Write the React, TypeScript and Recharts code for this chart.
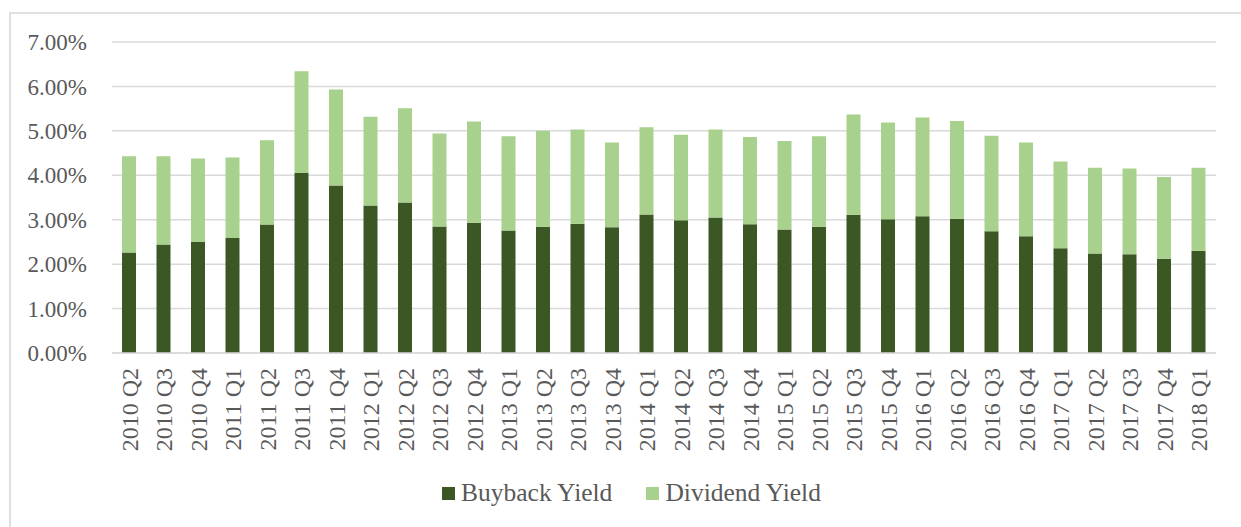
import { BarChart, Bar, XAxis, YAxis, CartesianGrid } from "recharts";

const quarters = [
  "2010 Q2", "2010 Q3", "2010 Q4", "2011 Q1", "2011 Q2", "2011 Q3", "2011 Q4", "2012 Q1",
  "2012 Q2", "2012 Q3", "2012 Q4", "2013 Q1", "2013 Q2", "2013 Q3", "2013 Q4", "2014 Q1",
  "2014 Q2", "2014 Q3", "2014 Q4", "2015 Q1", "2015 Q2", "2015 Q3", "2015 Q4", "2016 Q1",
  "2016 Q2", "2016 Q3", "2016 Q4", "2017 Q1", "2017 Q2", "2017 Q3", "2017 Q4", "2018 Q1",
];

const buybackYield = [
  2.26, 2.44, 2.5, 2.59, 2.89, 4.05, 3.77, 3.32, 3.39, 2.85, 2.93, 2.76, 2.84, 2.91, 2.83, 3.12,
  2.99, 3.05, 2.9, 2.78, 2.84, 3.11, 3.01, 3.08, 3.02, 2.74, 2.63, 2.36, 2.24, 2.22, 2.12, 2.3,
];

const dividendYield = [
  2.17, 1.99, 1.88, 1.81, 1.9, 2.29, 2.16, 2.0, 2.12, 2.09, 2.28, 2.12, 2.16, 2.12, 1.91, 1.96,
  1.92, 1.98, 1.96, 1.99, 2.04, 2.26, 2.18, 2.22, 2.2, 2.15, 2.11, 1.95, 1.93, 1.93, 1.84, 1.87,
];

const yTicks = [0, 1, 2, 3, 4, 5, 6, 7];

const series = [
  { key: "buyback", name: "Buyback Yield", color: "#3b5724" },
  { key: "dividend", name: "Dividend Yield", color: "#a9d18e" },
];

const data = quarters.map((q, i) => ({
  quarter: q,
  buyback: buybackYield[i],
  dividend: dividendYield[i],
}));

const font = "'Liberation Serif', 'DejaVu Serif', serif";
const textColor = "#595959";

function QuarterTick(props: any) {
  const { x, y, payload } = props;
  return (
    <text
      x={x}
      y={y}
      transform={`rotate(-90, ${x}, ${y})`}
      textAnchor="end"
      dy="0.35em"
      fill={textColor}
      fontSize={24}
      fontFamily={font}
    >
      {payload.value}
    </text>
  );
}

export default function App() {
  return (
    <div
      style={{
        position: "absolute",
        left: 0,
        top: 0,
        width: 1241,
        height: 527,
        overflow: "hidden",
        background: "#fff",
      }}
    >
      <div
        style={{
          position: "absolute",
          left: 9,
          top: 12,
          width: 1400,
          height: 700,
          border: "2px solid #e0e0e0",
        }}
      />
      <div style={{ position: "absolute", left: 0, top: 0 }}>
        <BarChart
          width={1241}
          height={527}
          data={data}
          margin={{ top: 42, right: 25, bottom: 54, left: 0 }}
          barSize={14}
        >
          <CartesianGrid vertical={false} stroke="#d9d9d9" strokeWidth={1.5} />
          <XAxis
            dataKey="quarter"
            interval={0}
            height={120}
            tickLine={false}
            tickMargin={9}
            axisLine={{ stroke: "#d9d9d9", strokeWidth: 1.5 }}
            tick={<QuarterTick />}
          />
          <YAxis
            width={112}
            domain={[0, 7]}
            ticks={yTicks}
            tickLine={false}
            axisLine={false}
            tickMargin={19}
            tickFormatter={(v: number) => `${v.toFixed(2)}%`}
            tick={{ fill: textColor, fontSize: 23, fontFamily: font }}
          />
          {series.map((s) => (
            <Bar
              key={s.key}
              dataKey={s.key}
              name={s.name}
              stackId="yield"
              fill={s.color}
              isAnimationActive={false}
            />
          ))}
        </BarChart>
      </div>
      <div
        style={{
          position: "absolute",
          left: 0,
          top: 477,
          width: 1263,
          display: "flex",
          justifyContent: "center",
          gap: 34,
          fontFamily: font,
          fontSize: 25.5,
          color: textColor,
          lineHeight: "32px",
        }}
      >
        {series.map((s) => (
          <div key={s.key} style={{ display: "flex", alignItems: "center" }}>
            <span
              style={{
                display: "inline-block",
                width: 13,
                height: 13,
                background: s.color,
                marginRight: 6,
              }}
            />
            <span>{s.name}</span>
          </div>
        ))}
      </div>
    </div>
  );
}
